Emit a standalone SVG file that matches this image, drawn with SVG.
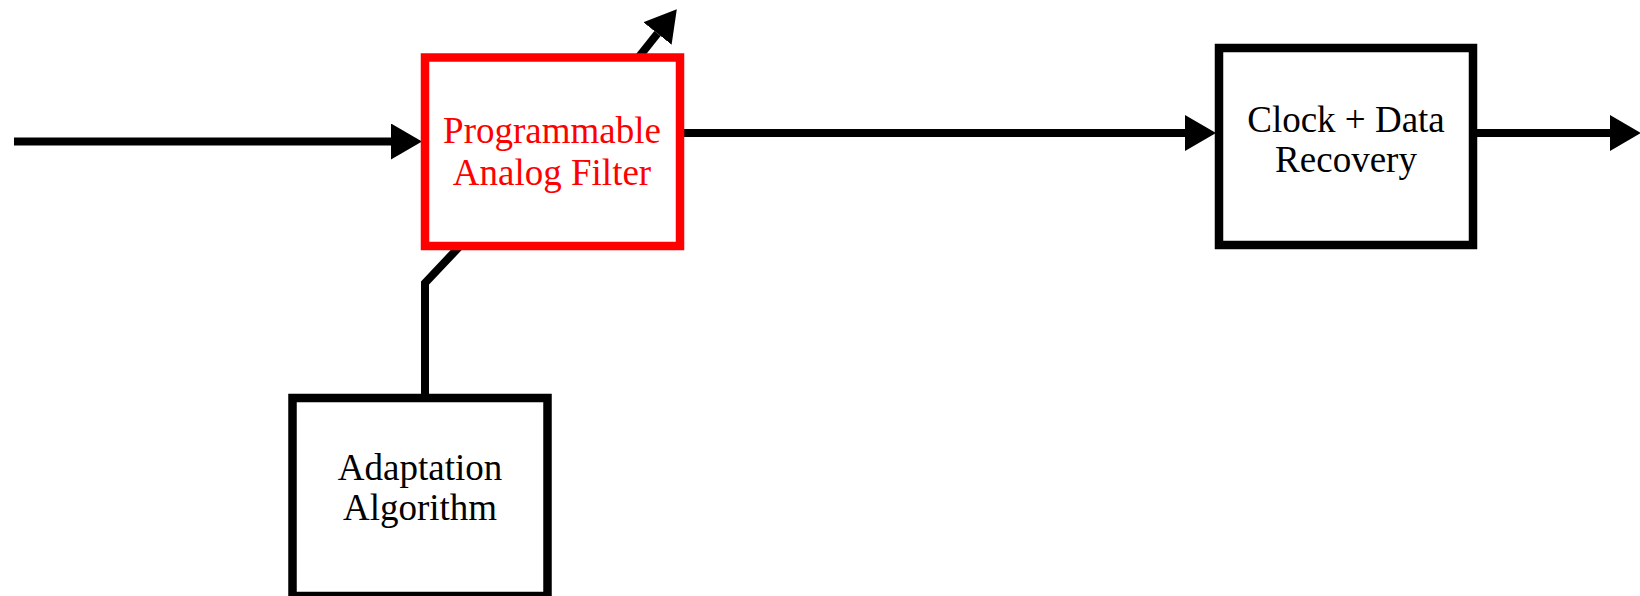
<svg xmlns="http://www.w3.org/2000/svg" width="1640" height="596" viewBox="0 0 1640 596">
<style>
.box{fill:#fff;stroke:#000;stroke-width:8.5}
.red{fill:#fff;stroke:#ff0000;stroke-width:8.5}
.lbl{font-family:"Liberation Serif","Times New Roman",serif;font-size:37px;text-anchor:middle;fill:#000}
.lblr{font-family:"Liberation Serif","Times New Roman",serif;font-size:37px;text-anchor:middle;fill:#ff0000}
.wire{fill:none;stroke:#000;stroke-width:8}
</style>
<defs>
<marker id="ah" markerUnits="userSpaceOnUse" markerWidth="31" markerHeight="36" refX="0" refY="18" orient="auto" viewBox="0 0 31 36">
<path d="M0,0 L31,18 L0,36 z" fill="#000"/>
</marker>
</defs>
<rect width="1640" height="596" fill="#fff"/>
<g id="connectors">
<line class="wire" x1="14" y1="141.5" x2="391" y2="141.5" marker-end="url(#ah)"/>
<line class="wire" x1="684" y1="133" x2="1185" y2="133" marker-end="url(#ah)"/>
<line class="wire" x1="1477" y1="133" x2="1610" y2="133" marker-end="url(#ah)"/>
<polyline class="wire" points="425,398 425,283 460,246"/>
<line class="wire" x1="638" y1="58" x2="657.5" y2="33.5" marker-end="url(#ah)"/>
</g>
<g id="filter">
<rect class="red" x="425" y="57.5" width="255" height="188.5"/>
<text class="lblr" x="552" y="143">Programmable</text>
<text class="lblr" x="552" y="185">Analog Filter</text>
</g>
<g id="cdr">
<rect class="box" x="1219" y="48" width="254" height="197"/>
<text class="lbl" x="1346" y="131.5">Clock + Data</text>
<text class="lbl" x="1346" y="171.5">Recovery</text>
</g>
<g id="adapt">
<rect class="box" x="292.5" y="398" width="255" height="198"/>
<text class="lbl" x="420" y="480">Adaptation</text>
<text class="lbl" x="420" y="520">Algorithm</text>
</g>
</svg>
